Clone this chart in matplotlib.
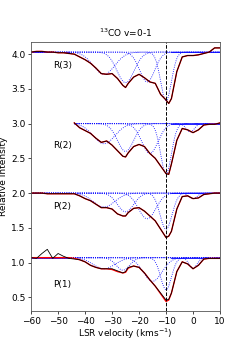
import numpy as np
import matplotlib
matplotlib.use('Agg')
import matplotlib.pyplot as plt

# velocity grid of the spectra (km/s)
vel = [-60, -58, -56, -54, -52, -50, -48, -46, -44, -42, -40, -38, -36, -34, -32,
       -30, -28, -26, -25, -24, -22, -20, -18, -16, -14, -12, -10, -9, -8, -6,
       -4, -2, 0, 2, 4, 6, 8, 10]
vel_r2 = vel[8:]   # R(2) starts at -44

r3 = [4.03, 4.04, 4.04, 4.03, 4.03, 4.02, 4.02, 4.01, 4.00, 3.96, 3.92, 3.87, 3.80,
      3.72, 3.71, 3.72, 3.65, 3.55, 3.52, 3.58, 3.67, 3.71, 3.66, 3.60, 3.58, 3.42,
      3.34, 3.29, 3.36, 3.75, 3.96, 3.98, 3.98, 3.99, 4.01, 4.03, 4.09, 4.09]
r2 = [3.01, 2.94, 2.90, 2.86, 2.79, 2.73, 2.75, 2.69, 2.61, 2.53, 2.52, 2.58, 2.67,
      2.70, 2.67, 2.57, 2.50, 2.39, 2.28, 2.27, 2.42, 2.76, 2.93, 2.91, 2.87, 2.91,
      2.98, 2.99, 2.99, 3.01]
p2 = [2.00, 2.00, 2.00, 1.99, 1.99, 1.99, 1.99, 1.99, 1.99, 1.96, 1.92, 1.89, 1.84,
      1.79, 1.79, 1.77, 1.70, 1.67, 1.67, 1.72, 1.78, 1.79, 1.74, 1.67, 1.60, 1.48,
      1.36, 1.38, 1.45, 1.77, 1.95, 1.96, 1.92, 1.93, 1.98, 1.99, 2.00, 2.00]
p1 = [1.07, 1.06, 1.13, 1.19, 1.06, 1.13, 1.09, 1.06, 1.05, 1.04, 1.01, 0.96, 0.93,
      0.91, 0.91, 0.91, 0.88, 0.85, 0.87, 0.93, 0.95, 0.93, 0.85, 0.75, 0.66, 0.56,
      0.46, 0.47, 0.56, 0.87, 1.01, 0.98, 0.91, 0.96, 1.05, 1.06, 1.06, 1.06]
p1_fit = [1.07, 1.07, 1.07, 1.07, 1.07, 1.07, 1.07, 1.07, 1.06, 1.04, 1.01, 0.96, 0.93,
          0.91, 0.91, 0.90, 0.87, 0.85, 0.86, 0.92, 0.95, 0.93, 0.85, 0.75, 0.66, 0.55,
          0.44, 0.46, 0.56, 0.87, 1.01, 0.98, 0.91, 0.96, 1.05, 1.06, 1.06, 1.06]

labels = ['R(3)', 'R(2)', 'P(2)', 'P(1)']
continuum = [4.03, 3.0, 2.0, 1.07]
label_y = [3.84, 2.68, 1.81, 0.68]

# gaussian components: (centre, depth, sigma)
comps = [
    [(-33, 0.32, 4.0), (-25, 0.44, 3.2), (-17, 0.43, 2.8), (-10, 0.70, 2.0)],
    [(-33, 0.29, 4.0), (-25, 0.40, 3.0), (-16, 0.43, 3.0), (-10, 0.72, 2.0), (-1, 0.12, 1.5)],
    [(-33, 0.20, 4.0), (-25, 0.27, 3.0), (-17, 0.37, 3.2), (-10, 0.52, 2.2), (0, 0.08, 1.5)],
    [(-33, 0.16, 4.0), (-26, 0.18, 2.5), (-15, 0.34, 3.5), (-10, 0.46, 2.0), (0, 0.15, 1.5)],
]
comp_start = [-60, -44, -60, -60]

spectra = [(vel, r3, r3), (vel_r2, r2, r2), (vel, p2, p2), (vel, p1, p1_fit)]

fig = plt.figure(figsize=(2.45, 3.5), dpi=100)
ax = fig.add_axes([0.127, 0.111, 0.771, 0.77])

for i in range(4):
    v, data, fit = spectra[i]
    c0 = continuum[i]
    vv = np.linspace(comp_start[i], 10, 400)
    for (mu, d, s) in comps[i]:
        ax.plot(vv, c0 - d * np.exp(-(vv - mu) ** 2 / (2 * s ** 2)), ':', color='blue', lw=0.6)
    ax.plot([-8, 10], [c0, c0], '-', color='blue', lw=0.6)
    if comp_start[i] < -50:
        ax.plot([-60, -46], [c0, c0], '-', color='blue', lw=0.6)
    ax.plot(v, fit, '-', color='red', lw=1.0)
    ax.plot(v, data, '-', color='black', lw=0.6)
    ax.text(-52, label_y[i], labels[i], fontsize=6.5, ha='left', va='center')

ax.axvline(-10, color='black', ls='--', lw=0.7)

ax.set_xlim(-60, 10)
ax.set_ylim(0.3, 4.18)
ax.set_xticks([-60, -50, -40, -30, -20, -10, 0, 10])
ax.set_yticks([0.5, 1.0, 1.5, 2.0, 2.5, 3.0, 3.5, 4.0])
ax.tick_params(labelsize=6.5, width=0.5, length=2.5, pad=1.5)
for sp in ax.spines.values():
    sp.set_linewidth(0.6)
    sp.set_color('#555555')
ax.set_xlabel('LSR velocity (kms$^{-1}$)', fontsize=6.5, labelpad=1)
ax.set_ylabel('Relative Intensity', fontsize=6.5, labelpad=2)
ax.set_title('$^{13}$CO v=0-1', fontsize=6.5, pad=3)

plt.savefig('out.png', dpi=100)
